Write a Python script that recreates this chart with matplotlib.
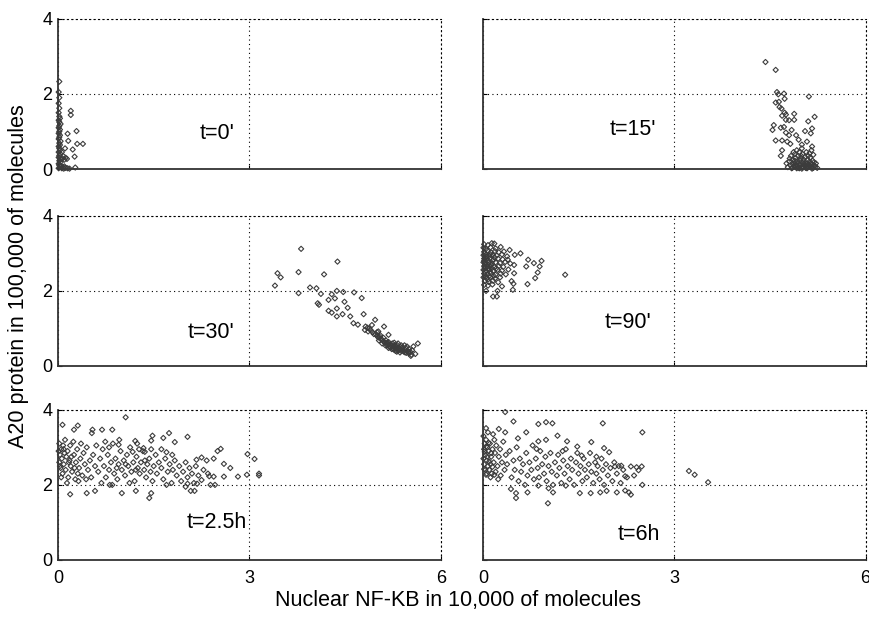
import numpy as np
import matplotlib
matplotlib.use("Agg")
from matplotlib import pyplot as plt

plt.rcParams["font.family"] = ["Liberation Sans", "DejaVu Sans"]

# punkty: (NF-KB w 10^4, A20 w 10^5)
t0 = [(0.01, 0.02), (0.03, 0.06), (0.02, 0.10), (0.01, 0.14), (0.04, 0.18), (0.02, 0.22),
      (0.03, 0.27), (0.01, 0.31), (0.02, 0.36), (0.04, 0.40), (0.01, 0.45), (0.03, 0.50),
      (0.02, 0.55), (0.01, 0.60), (0.03, 0.64), (0.02, 0.69), (0.04, 0.74), (0.01, 0.80),
      (0.02, 0.85), (0.03, 0.90), (0.01, 0.95), (0.02, 1.00), (0.03, 1.05), (0.01, 1.10),
      (0.02, 1.15), (0.04, 1.20), (0.02, 1.25), (0.01, 1.30), (0.03, 1.35), (0.02, 1.40),
      (0.01, 1.50), (0.02, 1.62), (0.01, 1.75), (0.02, 1.90), (0.01, 2.05), (0.02, 2.33),
      (0.06, 0.02), (0.09, 0.01), (0.12, 0.03), (0.15, 0.02), (0.08, 0.05), (0.05, 0.08),
      (0.18, 0.01), (0.10, 0.07), (0.20, 1.55), (0.20, 1.44), (0.29, 1.01), (0.15, 0.94),
      (0.16, 0.75), (0.30, 0.67), (0.39, 0.67), (0.23, 0.52), (0.11, 0.55), (0.26, 0.33),
      (0.07, 0.28), (0.10, 0.25), (0.12, 0.30), (0.05, 0.26), (0.14, 0.27), (0.27, 0.04),
      (0.08, 0.35), (0.06, 0.45)]

t15 = [(4.43, 2.85), (4.59, 2.64), (4.61, 2.05), (4.63, 1.99), (4.72, 2.01), (4.73, 1.87),
       (5.11, 1.93), (4.59, 1.77), (4.64, 1.79), (4.65, 1.65), (4.68, 1.61), (4.73, 1.50),
       (4.75, 1.45), (4.69, 1.42), (4.88, 1.47), (4.88, 1.31), (4.80, 1.30), (4.75, 1.31),
       (5.20, 1.39), (5.10, 1.27), (4.56, 1.17), (4.54, 1.04), (4.67, 1.10), (4.72, 1.12),
       (4.84, 1.04), (5.16, 1.08), (5.05, 1.01), (4.75, 0.97), (4.80, 0.90), (4.91, 0.90),
       (5.14, 0.95), (4.59, 0.76), (4.69, 0.76), (4.77, 0.73), (4.82, 0.67), (4.95, 0.78),
       (5.00, 0.65), (5.08, 0.73), (5.16, 0.60), (4.67, 0.35), (4.69, 0.50),
       (4.78, 0.05), (4.82, 0.10), (4.85, 0.03), (4.88, 0.15), (4.90, 0.08), (4.93, 0.20),
       (4.95, 0.04), (4.97, 0.12), (5.00, 0.06), (5.02, 0.18), (5.04, 0.10), (5.06, 0.03),
       (5.08, 0.14), (5.10, 0.07), (5.12, 0.20), (5.14, 0.05), (5.16, 0.12), (5.18, 0.03),
       (5.20, 0.09), (5.22, 0.15), (4.86, 0.25), (4.90, 0.30), (4.94, 0.35), (4.98, 0.28),
       (5.01, 0.40), (5.05, 0.32), (5.09, 0.25), (5.13, 0.30), (5.17, 0.22), (4.80, 0.20),
       (4.83, 0.35), (4.87, 0.45), (4.92, 0.50), (4.96, 0.45), (5.00, 0.55), (5.07, 0.45),
       (5.12, 0.42), (5.18, 0.38), (5.15, 0.50), (4.76, 0.15), (4.84, 0.02), (4.92, 0.02),
       (5.00, 0.01), (5.08, 0.02), (5.16, 0.01), (5.24, 0.03), (4.95, 0.15), (5.03, 0.25),
       (4.89, 0.40), (5.10, 0.35), (4.97, 0.22), (5.06, 0.09), (4.91, 0.12), (5.19, 0.18),
       (4.81, 0.28), (5.14, 0.15), (5.02, 0.05), (4.87, 0.08), (4.99, 0.35), (5.11, 0.12),
       (4.93, 0.07), (5.05, 0.16), (4.98, 0.10), (5.09, 0.04), (4.86, 0.13), (5.21, 0.06),
       (5.13, 0.09), (4.96, 0.02), (5.03, 0.13), (4.89, 0.22)]

t30 = [(3.81, 3.12), (4.38, 2.78), (3.44, 2.47), (3.49, 2.36), (3.77, 2.50), (4.17, 2.44),
       (3.40, 2.14), (3.95, 2.09), (4.05, 2.07), (3.77, 1.94), (4.12, 1.92), (4.29, 1.91),
       (4.37, 2.00), (4.47, 1.97), (4.64, 1.96), (4.76, 1.81), (4.24, 1.76), (4.34, 1.80),
       (4.07, 1.67), (4.09, 1.63), (4.49, 1.71), (4.54, 1.55), (4.37, 1.53), (4.24, 1.47),
       (4.29, 1.42), (4.37, 1.32), (4.46, 1.38), (4.58, 1.32), (4.79, 1.38), (4.63, 1.14),
       (4.70, 1.10), (4.81, 0.96), (4.92, 1.09), (4.97, 1.23), (4.86, 0.92), (5.02, 0.92),
       (5.11, 1.05), (5.04, 0.78), (5.18, 0.83),
       (4.98, 0.85), (5.00, 0.80), (5.02, 0.76), (5.05, 0.82), (5.06, 0.72), (5.08, 0.70),
       (5.10, 0.75), (5.10, 0.66), (5.12, 0.62), (5.14, 0.68), (5.15, 0.60), (5.16, 0.55),
       (5.18, 0.64), (5.20, 0.58), (5.20, 0.50), (5.22, 0.54), (5.24, 0.60), (5.25, 0.48),
       (5.26, 0.52), (5.28, 0.56), (5.30, 0.45), (5.30, 0.50), (5.32, 0.55), (5.34, 0.42),
       (5.35, 0.48), (5.36, 0.52), (5.38, 0.40), (5.40, 0.45), (5.40, 0.50), (5.42, 0.38),
       (5.44, 0.43), (5.45, 0.48), (5.46, 0.35), (5.48, 0.40), (5.50, 0.33), (5.50, 0.45),
       (5.52, 0.38), (5.54, 0.30), (5.55, 0.42), (5.53, 0.27), (5.60, 0.32), (5.64, 0.60),
       (5.57, 0.52), (5.27, 0.62), (5.33, 0.60), (5.18, 0.48), (5.13, 0.55), (5.08, 0.60),
       (5.23, 0.45), (5.38, 0.55), (5.43, 0.55), (5.36, 0.36), (5.29, 0.40), (5.47, 0.52),
       (4.93, 0.90), (4.90, 0.95), (4.88, 1.00), (4.85, 1.02), (4.82, 1.05), (4.95, 0.85),
       (5.03, 0.68), (5.00, 0.90), (5.26, 0.44), (5.31, 0.38), (5.34, 0.46), (5.41, 0.41),
       (5.44, 0.36), (5.37, 0.44), (5.21, 0.51), (5.16, 0.62), (5.49, 0.37), (5.28, 0.47)]

t90 = [(0.14, 3.27), (0.42, 3.09), (0.50, 2.96), (0.59, 3.00), (0.71, 2.83), (0.80, 2.74),
       (0.92, 2.80), (0.49, 2.69), (0.68, 2.65), (0.89, 2.65), (0.86, 2.49), (1.29, 2.43),
       (0.82, 2.34), (0.70, 2.18), (0.48, 2.19), (0.45, 2.26), (0.49, 2.47), (0.39, 2.83),
       (0.47, 2.03), (0.23, 2.00), (0.16, 1.85), (0.22, 1.85), (0.05, 2.00),
       (0.02, 3.24), (0.08, 3.22), (0.18, 3.26), (0.01, 3.15), (0.05, 3.12), (0.12, 3.16),
       (0.20, 3.13), (0.28, 3.17), (0.02, 3.04), (0.07, 3.07), (0.13, 3.02), (0.19, 3.06),
       (0.25, 3.03), (0.33, 3.05), (0.01, 2.95), (0.05, 2.97), (0.10, 2.93), (0.15, 2.96),
       (0.22, 2.94), (0.30, 2.97), (0.38, 2.92), (0.02, 2.86), (0.06, 2.84), (0.11, 2.87),
       (0.17, 2.83), (0.24, 2.86), (0.31, 2.84), (0.01, 2.76), (0.04, 2.74), (0.09, 2.77),
       (0.14, 2.73), (0.20, 2.76), (0.27, 2.74), (0.35, 2.77), (0.43, 2.73), (0.02, 2.66),
       (0.07, 2.64), (0.12, 2.67), (0.18, 2.63), (0.25, 2.66), (0.32, 2.64), (0.01, 2.56),
       (0.05, 2.54), (0.10, 2.57), (0.16, 2.53), (0.23, 2.56), (0.30, 2.54), (0.40, 2.57),
       (0.02, 2.46), (0.07, 2.44), (0.13, 2.47), (0.20, 2.43), (0.28, 2.46), (0.36, 2.44),
       (0.01, 2.36), (0.06, 2.34), (0.12, 2.37), (0.19, 2.33), (0.27, 2.36), (0.03, 2.26),
       (0.09, 2.24), (0.16, 2.27), (0.24, 2.23), (0.02, 2.16), (0.08, 2.14), (0.15, 2.17),
       (0.30, 2.12), (0.04, 2.70), (0.09, 2.60), (0.15, 2.80), (0.06, 2.90), (0.11, 2.50),
       (0.03, 3.00), (0.17, 2.40), (0.08, 2.30), (0.21, 2.60), (0.13, 2.70), (0.04, 2.50),
       (0.10, 2.40), (0.07, 2.80), (0.14, 2.60), (0.03, 2.62), (0.11, 2.98), (0.05, 2.38),
       (0.18, 2.90), (0.08, 2.70), (0.02, 2.80)]

t25h = [(1.06, 3.80), (0.07, 3.60), (0.31, 3.58), (0.25, 3.47), (0.54, 3.47), (0.69, 3.47),
        (0.85, 3.47), (0.53, 3.38), (1.48, 3.31), (1.74, 3.38), (1.65, 3.25), (2.03, 3.28),
        (1.46, 3.18), (1.83, 3.14), (1.21, 3.17), (1.24, 3.10), (1.34, 2.98), (1.36, 2.88),
        (1.17, 2.88), (0.95, 3.07), (0.80, 3.00), (1.62, 2.95), (1.79, 2.80), (1.70, 2.87),
        (2.55, 2.96), (2.50, 2.90), (2.97, 2.82), (3.08, 2.69), (2.25, 2.73), (2.33, 2.65),
        (2.17, 2.67), (2.44, 2.70), (2.60, 2.56), (2.70, 2.45), (2.82, 2.22), (2.96, 2.27),
        (3.15, 2.25), (3.15, 2.30), (2.60, 2.22), (2.44, 2.22), (2.37, 2.23), (2.25, 2.13),
        (2.39, 2.00), (2.46, 2.00), (2.08, 1.84), (2.14, 1.84), (2.03, 2.03), (2.18, 2.03),
        (0.45, 1.78), (0.58, 1.84), (0.19, 1.75), (0.81, 2.00), (1.00, 1.78), (1.22, 1.84),
        (1.46, 1.78), (1.43, 1.65),
        (0.02, 3.10), (0.05, 2.95), (0.08, 3.05), (0.03, 2.80), (0.10, 2.85), (0.06, 2.70),
        (0.13, 2.75), (0.02, 2.60), (0.09, 2.55), (0.15, 2.90), (0.18, 2.65), (0.04, 2.45),
        (0.12, 2.40), (0.20, 2.50), (0.07, 2.30), (0.16, 2.20), (0.22, 2.35), (0.25, 2.80),
        (0.28, 2.60), (0.30, 2.95), (0.33, 2.45), (0.35, 2.70), (0.38, 2.25), (0.40, 2.85),
        (0.42, 2.55), (0.45, 3.00), (0.47, 2.40), (0.50, 2.65), (0.52, 2.20), (0.55, 2.80),
        (0.58, 2.50), (0.60, 3.05), (0.24, 3.15), (0.19, 3.05), (0.11, 3.20), (0.36, 3.10),
        (0.27, 2.15), (0.14, 2.05), (0.32, 2.10), (0.44, 2.15), (0.01, 2.90), (0.03, 2.50),
        (0.21, 2.75), (0.26, 2.45), (0.09, 2.95), (0.31, 2.30), (0.17, 2.60), (0.05, 2.20),
        (0.63, 2.35), (0.66, 2.70), (0.70, 2.95), (0.72, 2.50), (0.75, 2.20), (0.78, 2.80),
        (0.80, 2.40), (0.83, 2.60), (0.86, 3.10), (0.88, 2.30), (0.90, 2.70), (0.93, 2.15),
        (0.95, 2.55), (0.98, 2.90), (1.00, 2.40), (1.03, 2.65), (1.05, 2.25), (1.08, 2.80),
        (1.10, 2.50), (1.13, 3.00), (1.15, 2.35), (1.18, 2.60), (1.20, 2.10), (1.23, 2.75),
        (1.25, 2.45), (1.28, 2.30), (1.30, 2.60), (1.33, 2.90), (1.35, 2.40), (1.38, 2.20),
        (1.40, 2.55), (1.43, 2.70), (1.45, 2.35), (1.48, 2.10), (1.50, 2.50), (1.53, 2.80),
        (1.55, 2.30), (1.58, 2.60), (0.68, 2.05), (0.85, 2.00), (1.12, 2.05), (0.96, 3.20),
        (0.74, 3.15), (1.27, 2.95), (1.46, 2.95), (0.92, 2.45), (1.06, 2.55), (1.22, 2.40),
        (1.36, 2.65), (1.62, 2.45), (1.65, 2.15), (1.68, 2.70), (1.72, 2.35), (1.75, 2.55),
        (1.78, 2.05), (1.80, 2.40), (1.83, 2.65), (1.86, 2.25), (1.90, 2.50), (1.93, 2.10),
        (1.96, 2.35), (2.00, 2.60), (2.03, 2.20), (2.06, 2.45), (2.10, 2.30), (2.13, 2.05),
        (2.16, 2.50), (2.20, 2.25), (2.28, 2.40), (2.35, 2.30), (2.00, 1.95), (1.70, 2.00)]

t6h = [(0.35, 3.94), (0.48, 3.69), (0.87, 3.62), (0.99, 3.67), (1.09, 3.64), (1.88, 3.64),
       (2.50, 3.40), (0.05, 3.51), (0.25, 3.49), (0.35, 3.40), (0.55, 3.24), (0.68, 3.40),
       (0.87, 3.16), (0.99, 3.20), (1.17, 3.31), (1.32, 3.16), (1.70, 3.14), (1.48, 3.02),
       (1.90, 2.98), (1.98, 2.87), (1.78, 2.75), (1.55, 2.78), (1.25, 2.90), (0.84, 2.96),
       (2.32, 2.49), (2.41, 2.47), (2.49, 2.49), (2.44, 2.39), (2.37, 2.25), (2.23, 2.23),
       (2.17, 2.51), (2.07, 2.49), (2.50, 2.00), (2.29, 1.80), (2.32, 1.74), (2.23, 1.85),
       (3.23, 2.37), (3.32, 2.27), (3.53, 2.07), (1.02, 1.51), (0.52, 1.78), (0.52, 1.65),
       (0.44, 1.89), (0.70, 1.80), (1.10, 1.80), (1.52, 1.78), (1.69, 1.78), (1.84, 1.80),
       (1.94, 1.84), (2.10, 1.80), (0.87, 1.98), (1.03, 1.91), (1.30, 1.98), (0.18, 2.27),
       (0.05, 2.27),
       (0.01, 3.30), (0.03, 3.10), (0.05, 3.20), (0.02, 2.95), (0.07, 3.00), (0.04, 2.80),
       (0.09, 2.90), (0.11, 3.10), (0.06, 2.65), (0.13, 2.75), (0.02, 2.55), (0.08, 2.50),
       (0.15, 2.95), (0.17, 2.60), (0.10, 2.40), (0.19, 2.85), (0.21, 3.05), (0.04, 2.40),
       (0.23, 2.50), (0.25, 2.75), (0.14, 2.30), (0.27, 2.95), (0.30, 2.60), (0.32, 3.15),
       (0.34, 2.40), (0.36, 2.80), (0.38, 2.55), (0.12, 2.55), (0.18, 3.20), (0.01, 2.70),
       (0.06, 2.30), (0.20, 2.35), (0.28, 2.25), (0.16, 3.35), (0.08, 3.40), (0.24, 2.15),
       (0.12, 2.20), (0.03, 2.88), (0.07, 2.75), (0.10, 2.62), (0.05, 3.02), (0.13, 2.85),
       (0.02, 2.42), (0.09, 3.12), (0.15, 2.48),
       (0.42, 2.90), (0.45, 2.20), (0.48, 2.65), (0.50, 2.40), (0.53, 3.00), (0.56, 2.10),
       (0.58, 2.70), (0.60, 2.35), (0.63, 2.55), (0.66, 2.00), (0.68, 2.85), (0.70, 2.25),
       (0.73, 2.60), (0.76, 2.40), (0.78, 3.05), (0.80, 2.15), (0.83, 2.70), (0.86, 2.45),
       (0.88, 2.20), (0.90, 2.90), (0.93, 2.55), (0.96, 2.30), (0.98, 2.75), (1.00, 2.10),
       (1.03, 2.50), (1.06, 2.85), (1.08, 2.35), (1.10, 2.00), (1.13, 2.60), (1.16, 2.25),
       (1.18, 2.80), (1.20, 2.45), (1.23, 2.05), (1.26, 2.65), (1.28, 2.30), (1.30, 2.95),
       (1.33, 2.50), (1.36, 2.15), (1.38, 2.70), (1.40, 2.40), (1.43, 2.00), (1.46, 2.60),
       (1.48, 2.85), (1.50, 2.30), (1.53, 2.50), (1.56, 2.10), (1.58, 2.70), (1.60, 2.40),
       (1.63, 2.20), (1.66, 2.55), (1.68, 2.85), (1.70, 2.35), (1.73, 2.05), (1.76, 2.60),
       (1.78, 2.30), (1.80, 2.50), (1.83, 2.15), (1.86, 2.70), (1.88, 2.40), (1.90, 2.00),
       (1.93, 2.55), (1.96, 2.25), (2.00, 2.45), (2.03, 2.10), (2.06, 2.60), (2.10, 2.30),
       (2.13, 2.50), (2.16, 2.05), (2.20, 2.40), (2.26, 2.20)]

panels = [t0, t15, t30, t90, t25h, t6h]
labels = ["t=0'", "t=15'", "t=30'", "t=90'", "t=2.5h", "t=6h"]
label_pos = [(2.77, 0.95), (2.72, 1.04), (2.77, 0.88), (2.64, 1.17), (2.96, 1.01), (2.77, 0.67)]

fig = plt.figure(figsize=(8.7, 6.18), dpi=100)
lefts = [0.0667, 0.555]
bottoms = [0.7265, 0.4078, 0.0939]
w, h = 0.440, 0.243

for i, pts in enumerate(panels):
    row, col = divmod(i, 2)
    ax = fig.add_axes([lefts[col], bottoms[row], w, h])
    xy = np.array(pts)
    ax.scatter(xy[:, 0], xy[:, 1], s=7, marker="D", facecolors="none",
               edgecolors="#3c3c3c", linewidths=0.8, clip_on=False, zorder=3)
    ax.set_xlim(0, 6)
    ax.set_ylim(0, 4)
    ax.set_xticks([0, 3, 6])
    ax.set_yticks([0, 2, 4])
    ax.grid(True, color="black", linestyle=(0, (1, 3)), linewidth=0.8)
    for s in ["top", "right"]:
        ax.spines[s].set_linestyle((0, (1, 3)))
        ax.spines[s].set_linewidth(0.8)
    for s in ["left", "bottom"]:
        ax.spines[s].set_color("#333333")
        ax.spines[s].set_linewidth(1.3)
    ax.tick_params(direction="in", length=3, labelsize=13, pad=4)
    ax.tick_params(axis="x", pad=7)
    if row < 2:
        ax.set_xticklabels([])
    if col == 1:
        ax.set_yticklabels([])
    tx, ty = label_pos[i]
    ax.text(tx, ty, labels[i], ha="right", va="center", fontsize=15.5)

fig.text(0.526, 0.028, "Nuclear NF-KB in 10,000 of molecules", ha="center", va="center", fontsize=15.5)
fig.text(0.021, 0.553, "A20 protein in 100,000 of molecules", ha="center", va="center",
         rotation=90, fontsize=15.5)

fig.savefig("out.png", dpi=100)
